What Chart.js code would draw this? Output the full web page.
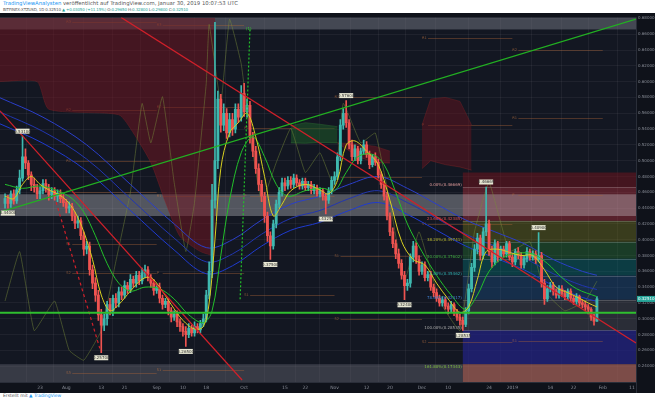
<!DOCTYPE html>
<html>
<head>
<meta charset="utf-8">
<script src="https://cdn.jsdelivr.net/npm/chart.js@4.4.1/dist/chart.umd.min.js"></script>
<style>
  html, body { margin: 0; padding: 0; background: #fff; width: 655px; height: 400px; overflow: hidden; }
  .hdr { position: absolute; left: 3px; font-family: "DejaVu Sans", sans-serif; color: #555; white-space: nowrap; line-height: 5px; }
  #hdr1 { top: 1px; font-size: 5.3px; }
  #hdr2 { top: 6.5px; font-size: 4px; letter-spacing: -0.15px; }
  .blue { color: #2196f3; }
  .grn { color: #26a69a; }
  #wrap { position: absolute; left: 0; top: 13px; width: 655px; height: 380px; }
  #foot { position: absolute; left: 3px; top: 393px; font-family: "DejaVu Sans", sans-serif; font-size: 4.5px; color: #555; white-space: nowrap; }
</style>
</head>
<body>
<div class="hdr" id="hdr1"><span class="blue">TradingViewAnalysten</span> veröffentlicht auf TradingView.com, Januar 30, 2019 10:07:53 UTC</div>
<div class="hdr" id="hdr2">BITFINEX:XTZUSD, 1D 0.32510 <span class="grn">▲ +0.03050 (+11.15%)</span> O:<span class="grn">0.29650</span> H:<span class="grn">0.32800</span> L:<span class="grn">0.29800</span> C:<span class="grn">0.32510</span></div>
<div id="wrap"><canvas id="chart" width="655" height="380"></canvas></div>
<div id="foot">Erstellt mit <span class="blue">&#9650; TradingView</span></div>
<script>
// day 0 = 14 Jul 2018, daily candles
const firstDay = -3;
const firstOpen = 0.446;
const closes = [
  0.452, 0.446, 0.458, 0.449, 0.463, 0.478, 0.505, 0.497, 0.482, 0.470,
  0.466, 0.458, 0.462, 0.471, 0.465, 0.457, 0.462, 0.455, 0.459, 0.452,
  0.447, 0.440, 0.442, 0.430, 0.421, 0.424, 0.405, 0.388, 0.392, 0.362,
  0.345, 0.330, 0.305, 0.292, 0.300, 0.318, 0.310, 0.326, 0.320, 0.334,
  0.330, 0.342, 0.337, 0.350, 0.345, 0.355, 0.348, 0.358, 0.362, 0.352,
  0.345, 0.336, 0.340, 0.326, 0.318, 0.322, 0.310, 0.302, 0.306, 0.296,
  0.290, 0.284, 0.280, 0.288, 0.282, 0.290, 0.286, 0.294, 0.300, 0.330,
  0.360, 0.450, 0.500, 0.578, 0.545, 0.560, 0.535, 0.552, 0.540, 0.565,
  0.555, 0.585, 0.562, 0.570, 0.530, 0.512, 0.490, 0.470, 0.455, 0.430,
  0.405, 0.392, 0.420, 0.445, 0.460, 0.472, 0.468, 0.475, 0.470, 0.478,
  0.472, 0.468, 0.474, 0.466, 0.470, 0.462, 0.466, 0.458, 0.462, 0.455,
  0.450, 0.462, 0.475, 0.480, 0.505, 0.545, 0.560, 0.548, 0.520, 0.505,
  0.515, 0.500, 0.512, 0.520, 0.508, 0.495, 0.505, 0.498, 0.482, 0.470,
  0.455, 0.430, 0.410, 0.395, 0.382, 0.370, 0.355, 0.342, 0.345, 0.378,
  0.392, 0.375, 0.360, 0.368, 0.352, 0.356, 0.340, 0.333, 0.326, 0.320,
  0.324, 0.316, 0.312, 0.318, 0.308, 0.302, 0.298, 0.293, 0.310, 0.338,
  0.365, 0.388, 0.402, 0.380, 0.410, 0.420, 0.385, 0.372, 0.395, 0.378,
  0.388, 0.382, 0.395, 0.378, 0.372, 0.385, 0.380, 0.368, 0.376, 0.385,
  0.378, 0.382, 0.375, 0.380, 0.345, 0.325, 0.338, 0.342, 0.335, 0.330,
  0.338, 0.332, 0.328, 0.335, 0.326, 0.322, 0.328, 0.320, 0.318, 0.315,
  0.312, 0.302, 0.297, 0.3251
];
const highs = [
  0.458, 0.456, 0.462, 0.463, 0.468, 0.488, 0.531, 0.515, 0.500, 0.486,
  0.478, 0.470, 0.467, 0.476, 0.476, 0.470, 0.466, 0.466, 0.463, 0.463,
  0.457, 0.451, 0.448, 0.446, 0.435, 0.430, 0.428, 0.410, 0.398, 0.397,
  0.368, 0.352, 0.336, 0.312, 0.306, 0.322, 0.326, 0.330, 0.332, 0.340,
  0.340, 0.348, 0.346, 0.356, 0.354, 0.360, 0.360, 0.364, 0.368, 0.366,
  0.356, 0.350, 0.344, 0.345, 0.330, 0.326, 0.326, 0.314, 0.310, 0.310,
  0.300, 0.294, 0.290, 0.294, 0.292, 0.296, 0.294, 0.298, 0.306, 0.336,
  0.372, 0.470, 0.675, 0.588, 0.584, 0.572, 0.566, 0.560, 0.560, 0.572,
  0.572, 0.595, 0.598, 0.578, 0.575, 0.536, 0.518, 0.496, 0.475, 0.460,
  0.435, 0.410, 0.425, 0.450, 0.466, 0.478, 0.478, 0.480, 0.480, 0.483,
  0.482, 0.476, 0.478, 0.478, 0.474, 0.474, 0.470, 0.469, 0.466, 0.465,
  0.458, 0.466, 0.480, 0.486, 0.510, 0.552, 0.566, 0.576, 0.552, 0.526,
  0.520, 0.518, 0.516, 0.526, 0.524, 0.512, 0.508, 0.510, 0.502, 0.486,
  0.474, 0.460, 0.434, 0.415, 0.400, 0.388, 0.375, 0.360, 0.350, 0.382,
  0.398, 0.396, 0.380, 0.372, 0.372, 0.360, 0.360, 0.344, 0.338, 0.330,
  0.328, 0.327, 0.320, 0.322, 0.320, 0.312, 0.306, 0.302, 0.314, 0.344,
  0.370, 0.394, 0.408, 0.406, 0.415, 0.4667, 0.425, 0.392, 0.400, 0.398,
  0.392, 0.392, 0.398, 0.398, 0.382, 0.388, 0.390, 0.384, 0.380, 0.390,
  0.388, 0.386, 0.386, 0.409, 0.384, 0.350, 0.342, 0.346, 0.346, 0.338,
  0.342, 0.342, 0.336, 0.338, 0.338, 0.330, 0.332, 0.330, 0.324, 0.322,
  0.318, 0.314, 0.306, 0.328
];
const lows = [
  0.440, 0.440, 0.441, 0.445, 0.446, 0.458, 0.474, 0.490, 0.476, 0.462,
  0.460, 0.452, 0.452, 0.458, 0.460, 0.450, 0.452, 0.450, 0.448, 0.447,
  0.442, 0.434, 0.434, 0.424, 0.414, 0.415, 0.400, 0.380, 0.382, 0.355,
  0.338, 0.322, 0.298, 0.257, 0.285, 0.292, 0.305, 0.304, 0.314, 0.315,
  0.324, 0.326, 0.332, 0.333, 0.340, 0.340, 0.343, 0.344, 0.352, 0.348,
  0.340, 0.330, 0.332, 0.320, 0.312, 0.314, 0.305, 0.296, 0.298, 0.290,
  0.284, 0.278, 0.265, 0.276, 0.278, 0.278, 0.282, 0.282, 0.290, 0.296,
  0.325, 0.352, 0.440, 0.490, 0.536, 0.538, 0.528, 0.530, 0.532, 0.535,
  0.548, 0.550, 0.556, 0.555, 0.522, 0.505, 0.484, 0.462, 0.448, 0.422,
  0.398, 0.375, 0.388, 0.415, 0.440, 0.455, 0.462, 0.464, 0.465, 0.466,
  0.468, 0.464, 0.464, 0.462, 0.462, 0.458, 0.458, 0.455, 0.454, 0.450,
  0.4325, 0.446, 0.458, 0.470, 0.476, 0.500, 0.540, 0.542, 0.515, 0.500,
  0.500, 0.496, 0.496, 0.508, 0.504, 0.490, 0.492, 0.494, 0.478, 0.465,
  0.450, 0.425, 0.405, 0.390, 0.376, 0.364, 0.350, 0.324, 0.336, 0.340,
  0.372, 0.370, 0.355, 0.356, 0.348, 0.348, 0.336, 0.328, 0.322, 0.316,
  0.316, 0.312, 0.306, 0.308, 0.304, 0.298, 0.292, 0.2854, 0.290, 0.306,
  0.334, 0.360, 0.382, 0.374, 0.376, 0.405, 0.380, 0.365, 0.368, 0.372,
  0.374, 0.378, 0.378, 0.374, 0.366, 0.368, 0.376, 0.364, 0.364, 0.372,
  0.374, 0.374, 0.370, 0.372, 0.340, 0.318, 0.322, 0.334, 0.330, 0.326,
  0.326, 0.328, 0.324, 0.324, 0.322, 0.318, 0.318, 0.316, 0.314, 0.310,
  0.306, 0.298, 0.292, 0.2965
];

// x axis
const tickDays = [9, 18, 30, 38, 49, 58, 66, 79, 93, 100, 110, 121, 129, 140, 149, 163, 171, 184, 192, 202, 212];
const tickLabels = ["23", "Aug", "13", "21", "Sep", "10", "18", "Oct", "15", "22", "Nov", "12", "20", "Dec", "10", "24", "2019", "14", "22", "Feb", "11"];
const priceTicks = [0.24, 0.26, 0.28, 0.30, 0.32, 0.34, 0.36, 0.38, 0.40, 0.42, 0.44, 0.46, 0.48, 0.50, 0.52, 0.54, 0.56, 0.58, 0.60, 0.62, 0.64, 0.66, 0.68];

// indicator lines, [day, price]
const yellowLine = [[-3,0.455],[0,0.452],[3,0.470],[6,0.480],[9,0.470],[12,0.463],[15,0.458],[18,0.450],[21,0.435],[24,0.410],[27,0.375],[30,0.330],[33,0.310],[36,0.318],[40,0.335],[44,0.350],[47,0.352],[50,0.340],[54,0.318],[58,0.298],[62,0.287],[65,0.290],[67,0.320],[69,0.400],[71,0.490],[74,0.535],[77,0.548],[80,0.560],[83,0.530],[86,0.480],[89,0.430],[92,0.445],[95,0.462],[100,0.470],[105,0.463],[108,0.458],[111,0.475],[114,0.520],[117,0.525],[121,0.512],[125,0.495],[129,0.450],[133,0.398],[137,0.375],[141,0.368],[145,0.345],[149,0.325],[153,0.308],[156,0.315],[159,0.350],[162,0.385],[166,0.388],[170,0.384],[174,0.380],[178,0.380],[182,0.362],[186,0.340],[190,0.333],[194,0.326],[197,0.320],[200,0.315]];
const greenLine = [[-3,0.470],[3,0.465],[9,0.468],[15,0.462],[20,0.452],[24,0.435],[28,0.405],[32,0.370],[36,0.345],[40,0.335],[45,0.340],[50,0.338],[55,0.325],[60,0.305],[65,0.295],[68,0.310],[71,0.380],[74,0.450],[78,0.510],[82,0.530],[86,0.505],[90,0.470],[94,0.455],[100,0.462],[106,0.465],[110,0.462],[114,0.485],[118,0.505],[123,0.508],[127,0.495],[131,0.460],[135,0.420],[140,0.385],[145,0.355],[150,0.330],[155,0.312],[159,0.330],[163,0.360],[168,0.378],[173,0.383],[178,0.382],[183,0.370],[188,0.352],[193,0.338],[200,0.328]];
const blueUpper = [[-5,0.580],[10,0.555],[25,0.520],[40,0.470],[55,0.420],[66,0.390],[75,0.400],[85,0.425],[95,0.445],[105,0.455],[115,0.470],[125,0.480],[135,0.465],[145,0.445],[155,0.425],[165,0.410],[175,0.395],[185,0.375],[195,0.360],[200,0.355]];
const blueMiddle = [[-5,0.562],[10,0.537],[25,0.502],[40,0.452],[55,0.402],[66,0.372],[75,0.382],[85,0.407],[95,0.427],[105,0.437],[115,0.452],[125,0.462],[135,0.447],[145,0.427],[155,0.407],[165,0.392],[175,0.377],[185,0.357],[195,0.342],[200,0.337]];
const blueLower = [[-5,0.547],[10,0.522],[25,0.487],[40,0.437],[55,0.387],[66,0.357],[75,0.367],[85,0.392],[95,0.412],[105,0.422],[115,0.437],[125,0.447],[135,0.432],[145,0.412],[155,0.392],[165,0.377],[175,0.362],[185,0.342],[195,0.327],[200,0.322]];
const oscLine = [[-3,0.3225],[2,0.385],[7,0.285],[14,0.3225],[19,0.26],[24,0.2475],[30,0.285],[35,0.3725],[40,0.46],[44,0.5725],[47,0.5225],[51,0.581],[55,0.4725],[59,0.385],[62,0.4475],[66,0.5975],[67,0.6725],[71,0.5725],[74,0.679],[78,0.6225],[81,0.535],[85,0.4475],[90,0.4975],[95,0.541],[100,0.485],[105,0.51],[110,0.466],[113,0.5725],[119,0.5225],[124,0.535],[129,0.4475],[134,0.3475],[139,0.41],[146,0.3225],[153,0.285],[158,0.41],[163,0.4725],[170,0.385],[177,0.3975],[182,0.335],[189,0.31],[196,0.3225],[200,0.3475]];

// ichimoku cloud pieces: days, top, bottom
const redCloudDays = [-5, 8, 12, 36, 41, 47, 52, 57, 64, 69];
const redCloudTop = [0.681, 0.681, 0.681, 0.681, 0.681, 0.681, 0.681, 0.681, 0.681, 0.681];
const redCloudBottom = [0.600, 0.600, 0.565, 0.558, 0.535, 0.4975, 0.4475, 0.404, 0.385, 0.379];
const greenCloudDays = [95, 100, 105, 111];
const greenCloudTop = [0.544, 0.548, 0.546, 0.543];
const greenCloudBottom = [0.5225, 0.522, 0.523, 0.5225];
const redCloud2Days = [111, 118, 124, 129];
const redCloud2Top = [0.5225, 0.521, 0.518, 0.512];
const redCloud2Bottom = [0.5225, 0.505, 0.4975, 0.497];
const redCloud3Days = [140, 143, 148, 153, 157];
const redCloud3Top = [0.545, 0.578, 0.580, 0.575, 0.545];
const redCloud3Bottom = [0.490, 0.500, 0.495, 0.492, 0.488];

// monthly pivot levels
const pivotStart = [18, 49, 79, 110, 140, 171];
const pivotEnd = [49, 79, 110, 140, 171, 202];
const pivotLevels = [
  [0.675, 0.564, 0.499, 0.460, 0.395, 0.3575, 0.231],
  [0.672, 0.568, 0.455, 0.358, 0.235],
  [0.541, 0.455, 0.330],
  [0.581, 0.479, 0.380, 0.300],
  [0.655, 0.545, 0.420, 0.270],
  [0.640, 0.554, 0.456, 0.2725],
];
const pivotNames = [
  ["R3", "R2", "R1", "P", "S1", "S2", "S3"],
  ["R3", "R2", "R1", "P", "S1"],
  ["R1", "P", "S1"],
  ["R1", "P", "S1", "S2"],
  ["R1", "P", "S1", "S2"],
  ["R2", "R1", "P", "S1"],
];

// trend lines [day, price]
const greenTrend = [[-4.73, 0.435], [213.4, 0.679]];
const redTrendA = [[-4.73, 0.563], [78.3, 0.2225]];
const redTrendB = [[36.8, 0.68125], [213.4, 0.2694]];
const redDashed = [[14.5, 0.4475], [29.5, 0.2625]];
const greenDashed = [[81, 0.666], [77.6, 0.3225]];
const waveLabel = { day: 80.6, price: 0.664, text: "(1)" };

// fibonacci retracement, low day 154 -> high day 162
const fibStartDay = 154;
const fibRatios = ["0.00%", "23.60%", "38.20%", "50.00%", "61.80%", "78.60%", "100.00%"];
const fibPrices = [0.46669, 0.42385, 0.39741, 0.37602, 0.35462, 0.32417, 0.28535];
const fibExtLabel = "161.80%(0.17343)";

// high / low tags
const tagDays = [3, -2, 30, 59, 88, 107, 114, 134, 154, 162, 180];
const tagPrices = [0.531, 0.440, 0.257, 0.265, 0.375, 0.4325, 0.576, 0.324, 0.28535, 0.46669, 0.409];
const tagAbove = [true, false, false, false, false, false, true, false, false, true, true];

const lastPrice = 0.32510;
const supportLine = 0.3075;

const days = closes.map((_, i) => firstDay + i);
const opens = closes.map((c, i) => (i === 0 ? firstOpen : closes[i - 1]));
const candleColor = closes.map((c, i) => (c >= opens[i] ? "#3fb8af" : "#ef5350"));

function pts(list) {
  return list.map(([x, y]) => ({ x, y }));
}
function zipPts(xs, ys) {
  return xs.map((x, i) => ({ x, y: ys[i] }));
}
function lineDs(data, color, width, order, extra) {
  return Object.assign({
    type: "line", data, borderColor: color, borderWidth: width, pointRadius: 0,
    tension: 0.35, fill: false, order,
  }, extra || {});
}

const bgPlugin = {
  id: "tvBackground",
  beforeDraw(chart) {
    const { ctx, width, height, chartArea } = chart;
    ctx.save();
    ctx.fillStyle = "#0f121a";
    ctx.fillRect(0, 0, width, height);
    ctx.fillStyle = "#131722";
    ctx.fillRect(chartArea.left, chartArea.top, chartArea.right - chartArea.left, chartArea.bottom - chartArea.top);
    ctx.restore();
  },
  beforeDatasetsDraw(chart) {
    const { ctx, chartArea: a, scales: { x, y } } = chart;
    const fx = x.getPixelForValue(fibStartDay);
    const band = (p1, p2, x1, x2, color) => {
      const y1 = y.getPixelForValue(p1);
      const y2 = y.getPixelForValue(p2);
      ctx.fillStyle = color;
      ctx.fillRect(x1, Math.min(y1, y2), x2 - x1, Math.abs(y2 - y1));
    };
    ctx.save();
    ctx.beginPath();
    ctx.rect(a.left, a.top, a.right - a.left, a.bottom - a.top);
    ctx.clip();
    // fib zones
    const zoneColors = ["rgba(190,50,60,0.40)", "rgba(130,130,20,0.35)", "rgba(40,130,50,0.35)", "rgba(0,130,130,0.35)", "rgba(30,90,150,0.35)", "rgba(110,110,120,0.25)"];
    band(0.485, fibPrices[0], fx, a.right, "rgba(110,20,30,0.55)");
    for (let i = 0; i < fibPrices.length - 1; i++) {
      band(fibPrices[i], fibPrices[i + 1], fx, a.right, zoneColors[i]);
    }
    band(fibPrices[6], 0.2425, fx, a.right, "rgba(35,35,130,0.75)");
    // top / bottom bands
    band(0.666, 0.69, a.left, a.right, "rgba(110,113,124,0.55)");
    band(0.2425, 0.21, a.left, fx, "rgba(100,103,114,0.45)");
    band(0.2425, 0.21, fx, a.right, "rgba(160,95,85,0.75)");
    // grey range band
    band(0.4575, 0.430, a.left, a.right, "rgba(215,215,222,0.33)");
    // fib level lines
    ctx.strokeStyle = "rgba(200,200,200,0.25)";
    ctx.lineWidth = 1;
    fibPrices.forEach((p) => {
      const py = Math.round(y.getPixelForValue(p)) + 0.5;
      ctx.beginPath();
      ctx.moveTo(fx, py);
      ctx.lineTo(a.right, py);
      ctx.stroke();
    });
    // pivot levels
    ctx.font = "3.6px 'DejaVu Sans'";
    ctx.textAlign = "left";
    ctx.textBaseline = "middle";
    pivotLevels.forEach((levels, m) => {
      const x1 = x.getPixelForValue(pivotStart[m]);
      const x2 = x.getPixelForValue(pivotEnd[m]);
      levels.forEach((p, k) => {
        const py = Math.round(y.getPixelForValue(p)) + 0.5;
        ctx.strokeStyle = "rgba(170,100,55,0.4)";
        ctx.beginPath();
        ctx.moveTo(x1 + 6, py);
        ctx.lineTo(x2, py);
        ctx.stroke();
        ctx.fillStyle = "rgba(190,115,65,0.7)";
        ctx.fillText(pivotNames[m][k], x1, py);
      });
    });
    ctx.restore();
  },
  afterDatasetsDraw(chart) {
    const { ctx, chartArea: a, scales: { x, y } } = chart;
    const fx = x.getPixelForValue(fibStartDay);
    ctx.save();
    ctx.beginPath();
    ctx.rect(a.left, a.top, a.right - a.left, a.bottom - a.top);
    ctx.clip();
    // support line
    const sy = y.getPixelForValue(supportLine);
    ctx.strokeStyle = "#2fbf2f";
    ctx.lineWidth = 2;
    ctx.beginPath();
    ctx.moveTo(a.left, sy);
    ctx.lineTo(a.right, sy);
    ctx.stroke();
    // fib labels
    const fibColors = ["#d99", "#e05050", "#b8b830", "#40b040", "#30b0b0", "#4080d0", "#aaa"];
    ctx.font = "4px 'DejaVu Sans'";
    ctx.textAlign = "right";
    ctx.textBaseline = "bottom";
    fibPrices.forEach((p, i) => {
      ctx.fillStyle = fibColors[i];
      ctx.fillText(fibRatios[i] + "(" + p.toFixed(5) + ")", fx - 1, y.getPixelForValue(p));
    });
    ctx.fillStyle = "#7fbf3f";
    ctx.fillText(fibExtLabel, fx - 1, y.getPixelForValue(0.2365));
    // wave label
    ctx.fillStyle = "#2fcf2f";
    ctx.textAlign = "center";
    ctx.fillText(waveLabel.text, x.getPixelForValue(waveLabel.day), y.getPixelForValue(waveLabel.price));
    // high/low tags
    ctx.textBaseline = "middle";
    tagDays.forEach((d, i) => {
      const px = x.getPixelForValue(d);
      const py = y.getPixelForValue(tagPrices[i]) + (tagAbove[i] ? -5 : 5);
      ctx.fillStyle = "#e6e6d2";
      ctx.fillRect(px - 7, py - 2.5, 14, 5);
      ctx.fillStyle = "#333";
      ctx.fillText(tagPrices[i].toFixed(5), px, py + 0.3);
    });
    ctx.restore();
    // last price tag on axis
    const ly = y.getPixelForValue(lastPrice);
    ctx.save();
    ctx.fillStyle = "#26a69a";
    ctx.fillRect(a.right + 1, ly - 3, chart.width - a.right - 1, 6);
    ctx.fillStyle = "#fff";
    ctx.font = "4px 'DejaVu Sans'";
    ctx.textAlign = "left";
    ctx.textBaseline = "middle";
    ctx.fillText(lastPrice.toFixed(5), a.right + 2, ly + 0.3);
    ctx.strokeStyle = "#2a2e39";
    ctx.lineWidth = 1;
    ctx.beginPath();
    ctx.moveTo(a.right + 0.5, a.top);
    ctx.lineTo(a.right + 0.5, chart.height);
    ctx.moveTo(0, a.bottom + 0.5);
    ctx.lineTo(a.right, a.bottom + 0.5);
    ctx.stroke();
    ctx.restore();
  },
};

const datasets = [
  lineDs(zipPts(redCloudDays, redCloudTop), "rgba(0,0,0,0)", 0, 20, { tension: 0 }),
  lineDs(zipPts(redCloudDays, redCloudBottom), "rgba(150,40,40,0.5)", 0.6, 19, { tension: 0.2, fill: "-1", backgroundColor: "rgba(110,22,32,0.55)" }),
  lineDs(zipPts(greenCloudDays, greenCloudTop), "rgba(60,140,60,0.6)", 0.6, 18, { tension: 0 }),
  lineDs(zipPts(greenCloudDays, greenCloudBottom), "rgba(60,140,60,0.6)", 0.6, 17, { tension: 0, fill: "-1", backgroundColor: "rgba(30,90,40,0.55)" }),
  lineDs(zipPts(redCloud2Days, redCloud2Top), "rgba(150,40,40,0.6)", 0.6, 18, { tension: 0 }),
  lineDs(zipPts(redCloud2Days, redCloud2Bottom), "rgba(150,40,40,0.6)", 0.6, 17, { tension: 0, fill: "-1", backgroundColor: "rgba(110,22,32,0.55)" }),
  lineDs(zipPts(redCloud3Days, redCloud3Top), "rgba(150,40,40,0.6)", 0.6, 18, { tension: 0 }),
  lineDs(zipPts(redCloud3Days, redCloud3Bottom), "rgba(150,40,40,0.6)", 0.6, 17, { tension: 0, fill: "-1", backgroundColor: "rgba(100,20,30,0.5)" }),
  lineDs(pts(oscLine), "rgba(120,140,60,0.6)", 0.8, 15, { tension: 0.1 }),
  lineDs(pts(blueUpper), "#2b3fc9", 1, 12),
  lineDs(pts(blueMiddle), "#2236b0", 1, 12),
  lineDs(pts(blueLower), "#1f3bd0", 1, 12),
  {
    type: "bar", order: 8, grouped: false, barThickness: 1,
    data: days.map((d, i) => ({ x: d, y: [lows[i], highs[i]] })),
    backgroundColor: candleColor,
  },
  {
    type: "bar", order: 7, grouped: false, barThickness: 2.2,
    data: days.map((d, i) => ({ x: d, y: [opens[i], closes[i]] })),
    backgroundColor: candleColor,
  },
  lineDs(pts(greenLine), "#22c02a", 1, 5),
  lineDs(pts(yellowLine), "#d8d020", 1, 4),
  lineDs(pts(greenTrend), "#22b022", 1.2, 2, { tension: 0 }),
  lineDs(pts(redTrendA), "#d0202a", 1.2, 2, { tension: 0 }),
  lineDs(pts(redTrendB), "#d0202a", 1.2, 2, { tension: 0 }),
  lineDs(pts(redDashed), "#d0202a", 1.2, 2, { tension: 0, borderDash: [3, 3] }),
  lineDs(pts(greenDashed), "#22c02a", 1.2, 2, { tension: 0, borderDash: [2, 2] }),
];

new Chart(document.getElementById("chart"), {
  type: "bar",
  data: { datasets },
  plugins: [bgPlugin],
  options: {
    responsive: false,
    animation: false,
    layout: { padding: 0 },
    plugins: { legend: { display: false }, tooltip: { enabled: false } },
    scales: {
      x: {
        type: "linear",
        min: -4.73,
        max: 213.4,
        offset: false,
        afterBuildTicks: (axis) => { axis.ticks = tickDays.map((v) => ({ value: v })); },
        afterFit: (axis) => { axis.height = 11; },
        ticks: {
          callback: (v) => tickLabels[tickDays.indexOf(v)],
          color: "#8a8e98",
          font: { family: "DejaVu Sans", size: 4.5 },
          maxRotation: 0,
          autoSkip: false,
          padding: 3,
        },
        grid: { color: "rgba(255,255,255,0.05)", drawTicks: false },
        border: { display: false },
      },
      y: {
        position: "right",
        min: 0.22,
        max: 0.68125,
        afterBuildTicks: (axis) => { axis.ticks = priceTicks.map((v) => ({ value: v })); },
        afterFit: (axis) => { axis.width = 19; },
        ticks: {
          callback: (v) => v.toFixed(5),
          color: "#8a8e98",
          font: { family: "DejaVu Sans", size: 4 },
          padding: 2,
        },
        grid: { color: "rgba(255,255,255,0.05)", drawTicks: false },
        border: { display: false },
      },
    },
  },
});
</script>
</body>
</html>
